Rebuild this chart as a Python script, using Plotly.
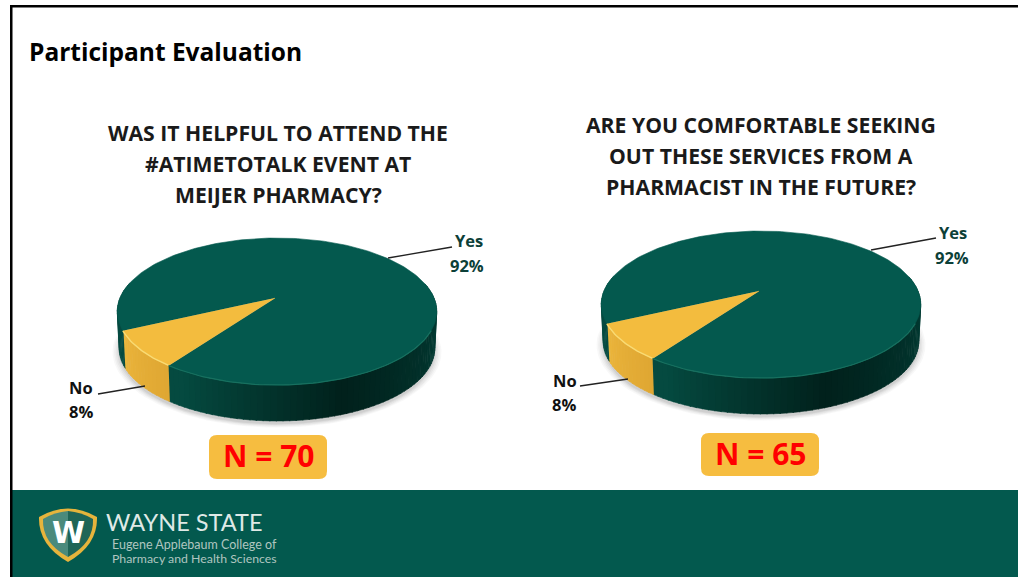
import numpy as np
import plotly.graph_objects as go

# ---- data ----
categories = ["Yes", "No"]
chart1_values = [92, 8]
chart2_values = [92, 8]
chart1_n = "N = 70"
chart2_n = "N = 65"
chart1_question = ["WAS IT HELPFUL TO ATTEND THE", "#ATIMETOTALK EVENT AT", "MEIJER PHARMACY?"]
chart2_question = ["ARE YOU COMFORTABLE SEEKING", "OUT THESE SERVICES FROM A", "PHARMACIST IN THE FUTURE?"]
slide_title = "Participant Evaluation"

GREEN_TOP = "#04594e"
YELLOW_TOP = "#f3bc3e"
FOOTER = "#03594e"
W, H = 1018, 577
K = 0.184
START_NO = 126.0  # degrees on the pie's own circle where the "No" slice begins

fig = go.Figure()


def project(theta, r, ox, oy, drop=0.0, shrink=1.0):
    """Tilted-disc projection of polar pie coordinates to the slide."""
    u = r * np.cos(theta)
    v = r * np.sin(theta)
    s = 1 / (1 - K * v)
    return ox + 2 + 157 * shrink * u * s, oy + drop + 71 * shrink * v * s


def poly(x, y, color, opacity=1.0):
    fig.add_trace(go.Scatter(
        x=list(x), y=list(y), mode="lines", fill="toself", fillcolor=color,
        line=dict(width=0.6 if opacity == 1.0 else 0, color=color), opacity=opacity,
        hoverinfo="skip", showlegend=False))


def line(x, y, color, width=1.0):
    fig.add_trace(go.Scatter(x=list(x), y=list(y), mode="lines",
                             line=dict(color=color, width=width),
                             hoverinfo="skip", showlegend=False))


def mix(a, b, t):
    a = np.array([int(a[i:i + 2], 16) for i in (1, 3, 5)])
    b = np.array([int(b[i:i + 2], 16) for i in (1, 3, 5)])
    c = (a + (b - a) * t).astype(int)
    return "#%02x%02x%02x" % tuple(c)


def pie3d(values, ox, oy):
    total = sum(values)
    span_no = values[1] / total * 2 * np.pi
    a0 = np.radians(START_NO)
    a1 = a0 + span_no
    drop = 37

    # soft shadow
    t = np.linspace(0, 2 * np.pi, 160)
    for grow, op in [(1.045, 0.05), (1.035, 0.06), (1.025, 0.07), (1.015, 0.09), (1.005, 0.12)]:
        x, y = project(t, 1, ox, oy, drop + 3, 0.985 * grow)
        poly(x, y, "#707070", op)

    # side wall, segment by segment
    edges = np.radians(np.linspace(-12, 192, 103))
    for e0, e1 in zip(edges[:-1], edges[1:]):
        mid = (e0 + e1) / 2
        seg = np.linspace(e0, e1 + 0.006, 4)
        tx, ty = project(seg, 1, ox, oy)
        bx, by = project(seg[::-1], 1, ox, oy, drop, 0.988)
        deg = np.degrees(mid)
        if a0 <= mid <= a1:
            f = (mid - a0) / span_no
            c = mix("#dfa733", "#ecb63c", f)
        elif deg < 70:
            c = mix("#04463d", "#01211c", max(0, min(1, (deg + 12) / 82)))
        else:
            c = mix("#01211c", "#054a40", max(0, min(1, (deg - 70) / 50)))
        poly(np.r_[tx, bx], np.r_[ty, by], c)

    # top faces
    th_yes = np.linspace(a1, a0 + 2 * np.pi, 220)
    x, y = project(th_yes, 1, ox, oy)
    poly(np.r_[ox, x], np.r_[oy, y], GREEN_TOP)
    th_no = np.linspace(a0, a1, 30)
    x, y = project(th_no, 1, ox, oy)
    poly(np.r_[ox, x], np.r_[oy, y], YELLOW_TOP)

    # rim highlights
    x, y = project(th_no, 1, ox, oy)
    line(x, y, "#f9db74", 1.4)
    th = np.linspace(np.radians(25), a0, 70)
    x, y = project(th, 1, ox, oy)
    line(x, y, "#17705f", 1.2)


def text(x, y, s, size, color, family, bold=False, anchor="center"):
    fig.add_annotation(x=x, y=y, xref="x", yref="y", text=f"<b>{s}</b>" if bold else s,
                       showarrow=False, xanchor=anchor, yanchor="middle",
                       font=dict(size=size, color=color, family=family))


def rrect(x0, y0, x1, y1, r, color):
    p = (f"M{x0 + r},{y0} L{x1 - r},{y0} Q{x1},{y0} {x1},{y0 + r} L{x1},{y1 - r} "
         f"Q{x1},{y1} {x1 - r},{y1} L{x0 + r},{y1} Q{x0},{y1} {x0},{y1 - r} "
         f"L{x0},{y0 + r} Q{x0},{y0} {x0 + r},{y0} Z")
    fig.add_shape(type="path", path=p, fillcolor=color, line_width=0, xref="x", yref="y")


QFONT = "Open Sans"
NFONT = "Open Sans"
TFONT = "Open Sans"

pie3d(chart1_values, 275, 298)
pie3d(chart2_values, 759, 291)

# leaders
line([388, 452], [258, 247], "#222222", 1.3)
line([98, 145], [394, 386], "#222222", 1.3)
line([871, 936], [250, 238], "#222222", 1.3)
line([580, 628], [386, 379], "#222222", 1.3)

# labels
LBL = "Open Sans"
text(469, 240, categories[0], 16.5, "#0c4038", LBL, True)
text(467, 265, f"{chart1_values[0]}%", 16.5, "#0c4038", LBL, True)
text(81, 387, categories[1], 16.5, "#111111", LBL, True)
text(81, 411, f"{chart1_values[1]}%", 16.5, "#111111", LBL, True)
text(953, 232, categories[0], 16.5, "#0c4038", LBL, True)
text(952, 257, f"{chart2_values[0]}%", 16.5, "#0c4038", LBL, True)
text(565, 380, categories[1], 16.5, "#111111", LBL, True)
text(564, 404, f"{chart2_values[1]}%", 16.5, "#111111", LBL, True)

# questions
for i, s in enumerate(chart1_question):
    text(278, 132.5 + 31 * i, s, 21.2, "#1a1a1a", QFONT, True)
for i, s in enumerate(chart2_question):
    text(761, 124.5 + 31 * i, s, 21.2, "#1a1a1a", QFONT, True)

text(27, 51.5, slide_title, 24.5, "#000000", TFONT, True, "left")

# N badges
rrect(209, 435, 327, 479, 8, "#f6bd40")
rrect(701, 433, 819, 476, 8, "#f6bd40")
text(268, 455.5, chart1_n, 30, "#ff0000", NFONT, True)
text(760, 453.5, chart2_n, 30, "#ff0000", NFONT, True)

# frame + footer
fig.add_shape(type="rect", x0=12, x1=W, y0=490, y1=H, fillcolor=FOOTER, line_width=0, layer="below")
fig.add_shape(type="rect", x0=10, x1=W, y0=5, y1=7.5, fillcolor="#000000", line_width=0)
fig.add_shape(type="rect", x0=10, x1=12.5, y0=5, y1=H, fillcolor="#000000", line_width=0)

# logo
fig.add_shape(type="path",
              path="M39,517 Q68,500 97,517 Q98,545 68,562 Q38,545 39,517 Z",
              fillcolor="#e6b43c", line_width=0)
fig.add_shape(type="path",
              path="M43,519 Q55,512 68,511 L68,557 Q42,543 43,519 Z",
              fillcolor="#4a8a7c", line_width=0)
fig.add_shape(type="path",
              path="M93,519 Q81,512 68,511 L68,557 Q94,543 93,519 Z",
              fillcolor="#1f6557", line_width=0)
text(68, 532, "W", 30, "#ffffff", "DejaVu Sans", True)
text(104, 522, "WAYNE STATE", 23.5, "#dfe9e6", "Lato", False, "left")
text(110, 544, "Eugene Applebaum College of", 12.5, "#b0c6c0", "Lato", False, "left")
text(110, 558, "Pharmacy and Health Sciences", 12.3, "#b0c6c0", "Lato", False, "left")

fig.update_layout(
    width=W, height=H, margin=dict(l=0, r=0, t=0, b=0),
    paper_bgcolor="#ffffff", plot_bgcolor="#ffffff", showlegend=False,
    xaxis=dict(range=[0, W], visible=False, fixedrange=True),
    yaxis=dict(range=[H, 0], visible=False, fixedrange=True),
)
fig.write_html("out.html", config={"displayModeBar": False},
               post_script="document.body.style.margin='0';")
